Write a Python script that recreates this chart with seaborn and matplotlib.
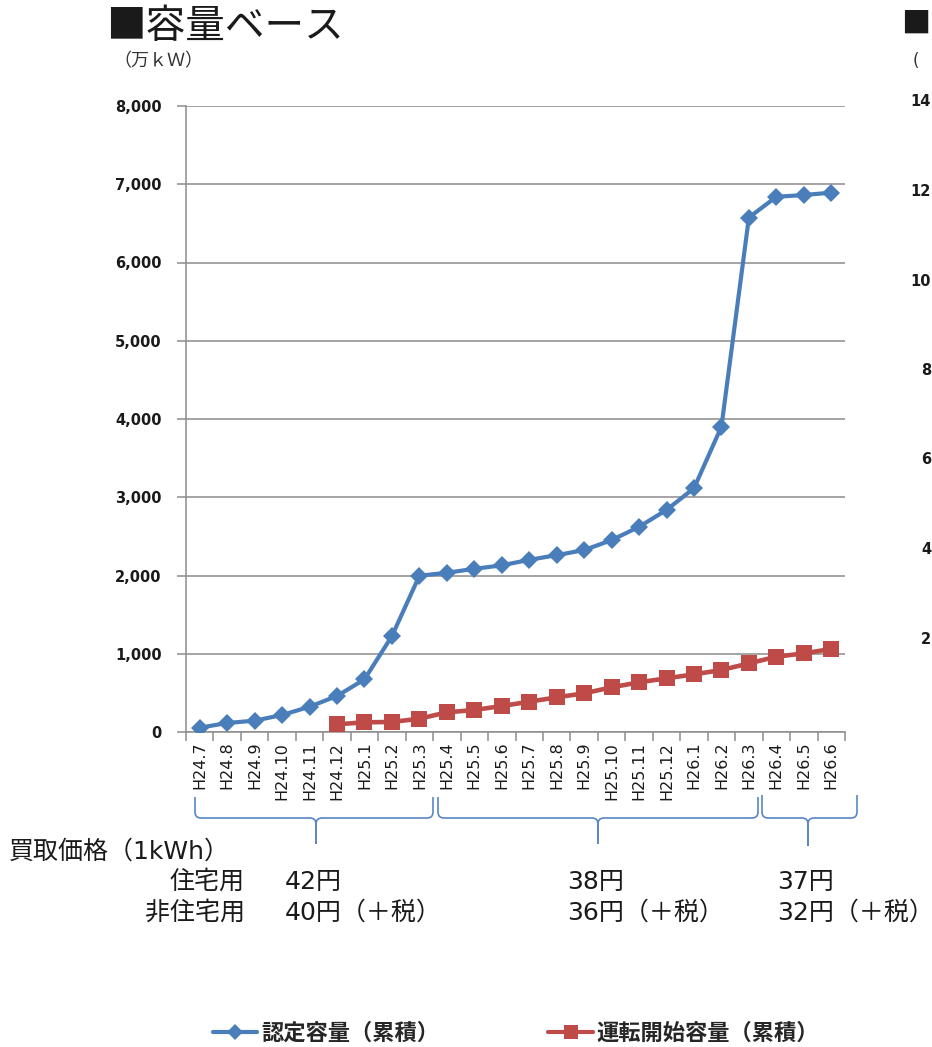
import numpy as np
import pandas as pd
import matplotlib
matplotlib.use("Agg")
import matplotlib.pyplot as plt
from matplotlib.path import Path
from matplotlib.patches import PathPatch
from matplotlib.ticker import FuncFormatter
import seaborn as sns

# ---------------- data ----------------
months = ["H24.7", "H24.8", "H24.9", "H24.10", "H24.11", "H24.12",
          "H25.1", "H25.2", "H25.3", "H25.4", "H25.5", "H25.6",
          "H25.7", "H25.8", "H25.9", "H25.10", "H25.11", "H25.12",
          "H26.1", "H26.2", "H26.3", "H26.4", "H26.5", "H26.6"]
nintei = [55, 115, 145, 217, 323, 460, 673, 1226, 1997, 2035, 2085, 2130,
          2200, 2260, 2325, 2452, 2622, 2838, 3115, 3902, 6575, 6840, 6862, 6893]
unten = [np.nan, np.nan, np.nan, np.nan, np.nan, 98, 124, 128, 170, 251, 281, 332,
         387, 443, 494, 571, 635, 686, 737, 792, 877, 962, 1005, 1061]
series_names = ["認定容量（累積）", "運転開始容量（累積）"]
yticks = [0, 1000, 2000, 3000, 4000, 5000, 6000, 7000, 8000]
title = "■容量ベース"
unit = "（万ｋＷ）"
price_head = "買取価格（1kWh）"
price_rows = ["住宅用", "非住宅用"]
price_groups = [["42円", "40円（＋税）"], ["38円", "36円（＋税）"], ["37円", "32円（＋税）"]]
# visible (clipped) tick labels of the neighbouring chart at the right edge
right_ticks = ["14", "12", "10", "8", "6", "4", "2"]

# ---------------- style ----------------
sns.set_theme(style="white")
plt.rcParams["font.family"] = ["Noto Sans CJK JP", "DejaVu Sans"]
BLUE = "#4A7EBB"
RED = "#BE4B48"
GRID = "#8C8C8C"
BRACE = "#5A86C5"
TXT = "#1A1A1A"
MIXED = ["DejaVu Sans", "Noto Sans CJK JP"]

W, H = 932, 1047
fig = plt.figure(figsize=(W / 100, H / 100), dpi=100)
ax = fig.add_axes([186 / W, 1 - 732 / H, 659 / W, 626 / H])

x = np.arange(len(months))
df = pd.DataFrame({"x": x, series_names[0]: nintei, series_names[1]: unten})
long = df.melt(id_vars="x", var_name="series", value_name="value").dropna()

sns.lineplot(data=long, x="x", y="value", hue="series", style="series",
             hue_order=series_names, style_order=series_names,
             palette={series_names[0]: BLUE, series_names[1]: RED},
             markers={series_names[0]: "D", series_names[1]: "s"},
             dashes=False, estimator=None, linewidth=3.0,
             markeredgewidth=0, ax=ax, legend=True, zorder=3)

for ln in ax.lines:
    if ln.get_marker() == "D":
        ln.set_markersize(9)
    elif ln.get_marker() == "s":
        ln.set_markersize(11)
        ln.set_linewidth(3.3)

handles, labels = ax.get_legend_handles_labels()
if ax.get_legend() is not None:
    ax.get_legend().remove()
for h in handles:
    h.set_linewidth(3.0)
    h.set_markeredgewidth(0)
    h.set_markersize(8 if h.get_marker() == "D" else 10)

# axes
ax.set_xlim(-0.5, len(months) - 0.5)
ax.set_ylim(0, 8000)
ax.set_yticks(yticks)
ax.yaxis.set_major_formatter(FuncFormatter(lambda v, p: f"{int(v):,}"))
ax.set_xticks(x)
ax.set_xticklabels(months, rotation=90, va="top", ha="center",
                   fontsize=11.5, family="DejaVu Sans", color=TXT)
ax.set_xticks(np.arange(-0.5, len(months), 1), minor=True)
ax.set_xlabel("")
ax.set_ylabel("")
for lab in ax.get_yticklabels():
    lab.set_fontweight("bold")
    lab.set_family("DejaVu Sans")
    lab.set_fontsize(10.5)
    lab.set_color(TXT)
ax.tick_params(axis="y", which="major", left=True, length=6.5, width=1.1,
               color=GRID, pad=11)
ax.tick_params(axis="x", which="major", bottom=True, length=0, pad=7)
ax.tick_params(axis="x", which="minor", bottom=True, length=6.5, width=1.1, color=GRID)
ax.yaxis.grid(True, color=GRID, linewidth=1.1)
ax.xaxis.grid(False)
for s in ["top", "right"]:
    ax.spines[s].set_visible(False)
for s in ["left", "bottom"]:
    ax.spines[s].set_color(GRID)
    ax.spines[s].set_linewidth(1.1)

# ---------------- overlay for annotations (pixel coords) ----------------
ov = fig.add_axes([0, 0, 1, 1], zorder=5)
ov.set_xlim(0, W)
ov.set_ylim(H, 0)
ov.axis("off")

ov.text(106, 27, title, fontsize=28.5, va="center", ha="left", color=TXT)
ov.text(113, 61, unit, fontsize=13, va="center", ha="left", color="#333333")

def brace(xl, xr, xm, yt, yh, yb, r=6):
    for xe, sgn in [(xl, 1), (xr, -1)]:
        verts = [(xe, yt), (xe, yh - r), (xe, yh), (xe + sgn * r, yh),
                 (xm - sgn * r, yh), (xm, yh), (xm, yh + r), (xm, yb)]
        codes = [Path.MOVETO, Path.LINETO, Path.CURVE3, Path.CURVE3,
                 Path.LINETO, Path.CURVE3, Path.CURVE3, Path.LINETO]
        ov.add_patch(PathPatch(Path(verts, codes), fill=False,
                               edgecolor=BRACE, linewidth=1.2))

brace(195, 433, 316, 797, 818, 844)
brace(438, 758, 598, 797, 818, 844)
brace(762, 857, 808, 795, 818, 846)

FS = 18
ov.text(9, 852, price_head, fontsize=FS, va="center", ha="left", color=TXT, family=MIXED)
ov.text(245, 882, price_rows[0], fontsize=FS, va="center", ha="right", color=TXT)
ov.text(245, 913, price_rows[1], fontsize=FS, va="center", ha="right", color=TXT)
for xl, (a, b) in zip([285, 567, 777], price_groups):
    ov.text(xl, 882, a, fontsize=FS, va="center", ha="left", color=TXT, family=MIXED)
    ov.text(xl, 913, b, fontsize=FS, va="center", ha="left", color=TXT, family=MIXED)

# neighbouring chart, cut by the right edge
ov.text(901, 25, "■", fontsize=21, va="center", ha="left", color=TXT)
ov.text(913, 61, "(", fontsize=12, va="center", ha="left", color="#333333", family="DejaVu Sans")
for i, t in enumerate(right_ticks):
    ov.text(931, 102 + i * 89.5, t, fontsize=10.5, fontweight="bold",
            family="DejaVu Sans", va="center", ha="right", color=TXT)

fig.legend(handles, labels, loc="center left", bbox_to_anchor=(213 / W, 1 - 1033 / H),
           ncol=2, frameon=False, handlelength=2.0, handletextpad=0.18,
           columnspacing=4.9, borderaxespad=0, borderpad=0,
           prop={"family": ["Noto Sans CJK JP", "DejaVu Sans"], "weight": "bold", "size": 16})

fig.savefig("out.png", dpi=100)
